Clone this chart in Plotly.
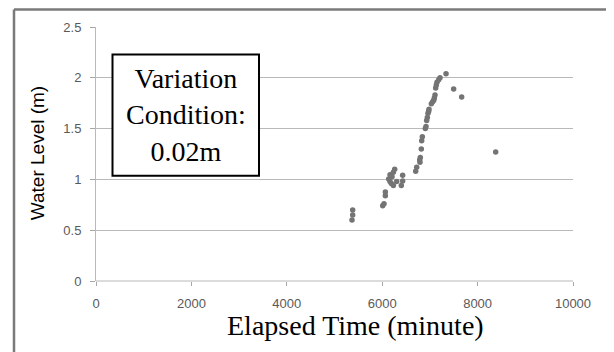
import plotly.graph_objects as go

# Data
elapsed_min = [5367, 5381, 5381, 6010, 6038, 6066, 6066, 6136, 6164, 6164, 6192, 6206,
               6234, 6234, 6262, 6304, 6401, 6429, 6429, 6702, 6723, 6786, 6792, 6799,
               6820, 6828, 6841, 6904, 6918, 6932, 6946, 6960, 6974, 6981, 7030, 7058,
               7080, 7093, 7107, 7121, 7135, 7149, 7184, 7212, 7338, 7498, 7666, 8379]
water_level = [0.60, 0.65, 0.70, 0.74, 0.76, 0.84, 0.875, 1.005, 1.045, 0.98, 0.96, 1.025,
               1.07, 0.94, 1.10, 0.98, 0.94, 0.985, 1.04, 1.08, 1.12, 1.19, 1.17, 1.215,
               1.30, 1.38, 1.42, 1.50, 1.52, 1.58, 1.61, 1.65, 1.67, 1.69, 1.745, 1.765,
               1.78, 1.80, 1.83, 1.90, 1.93, 1.955, 1.98, 2.00, 2.04, 1.89, 1.81, 1.27]
x_ticks = [0, 2000, 4000, 6000, 8000, 10000]
y_ticks = [0, 0.5, 1, 1.5, 2, 2.5]
y_tick_labels = ["0", "0.5", "1", "1.5", "2", "2.5"]

OFF = 8  # default page body margin
W, H = 614 - OFF, 352 - OFF
# plot area in page pixels
L, R, T, B = 96, 573, 26.5, 281


def px(xp):
    return (xp - L) / (R - L)


def py(yp):
    return (B - yp) / (B - T)


fig = go.Figure()
fig.add_trace(go.Scatter(
    x=elapsed_min, y=water_level, mode="markers",
    marker=dict(color="#747474", size=5.5),
    hoverinfo="x+y", showlegend=False,
))

tickfont = dict(family="Liberation Sans, Arial, sans-serif", size=13, color="#595959")
border = dict(color="#7a7a7a", width=2.5)

fig.update_layout(
    width=W, height=H,
    margin=dict(l=L - OFF, r=W - (R - OFF), t=T - OFF, b=H - (B - OFF), pad=0),
    paper_bgcolor="white", plot_bgcolor="white",
    xaxis=dict(
        range=[0, 10000], tickvals=x_ticks, ticktext=[str(v) for v in x_ticks],
        showgrid=False, zeroline=False, showline=False,
        ticks="outside", ticklen=4, tickcolor="#a6a6a6", tickwidth=1,
        tickfont=tickfont, ticklabelstandoff=6, fixedrange=True,
    ),
    yaxis=dict(
        range=[0, 2.5], tickvals=y_ticks, ticktext=y_tick_labels,
        showgrid=True, gridcolor="#b9b9b9", gridwidth=1,
        zeroline=False, showline=True, linecolor="#b9b9b9", linewidth=1,
        ticks="outside", ticklen=5, tickcolor="#a6a6a6", tickwidth=1,
        tickfont=tickfont, ticklabelstandoff=6, fixedrange=True,
    ),
    shapes=[
        dict(type="line", xref="paper", yref="paper", x0=0, x1=1, y0=0, y1=0,
             line=dict(color="#b9b9b9", width=1), layer="below"),
        # outer chart border (top, left, right)
        dict(type="line", xref="paper", yref="paper", x0=px(14), x1=px(611),
             y0=py(9), y1=py(9), line=border, layer="above"),
        dict(type="line", xref="paper", yref="paper", x0=px(14), x1=px(14),
             y0=py(9), y1=py(370), line=border, layer="above"),
        dict(type="line", xref="paper", yref="paper", x0=px(611), x1=px(611),
             y0=py(9), y1=py(370), line=border, layer="above"),
        dict(type="rect", xref="paper", yref="paper",
             x0=px(112.5), x1=px(259), y0=py(175.5), y1=py(54),
             line=dict(color="black", width=2), fillcolor="white", layer="above"),
    ],
    annotations=[
        dict(text="Variation<br>Condition:<br>0.02m", xref="paper", yref="paper",
             x=px(185.7), y=py(115), xanchor="center", yanchor="middle",
             showarrow=False, align="center",
             font=dict(family="Liberation Serif, Times New Roman, serif", size=28, color="black")),
        dict(text="Elapsed Time (minute)", xref="paper", yref="paper",
             x=px(355), y=py(326), xanchor="center", yanchor="middle",
             showarrow=False,
             font=dict(family="Liberation Serif, Times New Roman, serif", size=28, color="black")),
        dict(text="Water Level (m)", xref="paper", yref="paper",
             x=px(37), y=py(153), xanchor="center", yanchor="middle",
             showarrow=False, textangle=-90,
             font=dict(family="Liberation Sans, Arial, sans-serif", size=19, color="black")),
    ],
)

fig.write_html("out.html")
